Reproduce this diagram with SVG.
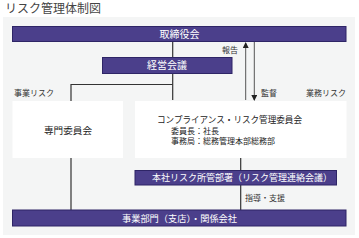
<svg xmlns="http://www.w3.org/2000/svg" width="359" height="238" viewBox="0 0 359 238">
<defs>
<style>
text{font-family:"Noto Sans CJK JP","Noto Sans CJK SC",sans-serif;}
.bar{fill:#4b3f8b;stroke:#2e2566;stroke-width:1;}
.box{fill:#ffffff;}
.bt{fill:#ffffff;font-size:10px;text-anchor:middle;}
.lbl{fill:#333333;font-size:8px;}
.ln{stroke:#333333;stroke-width:1.2;fill:none;}
.ar{stroke:#555555;stroke-width:1;fill:none;}
</style>
<marker id="ah" markerWidth="6" markerHeight="6" refX="5" refY="3" orient="auto" markerUnits="userSpaceOnUse">
<path d="M0,0 L6,3 L0,6 Z" fill="#222222"/>
</marker>
</defs>
<text x="5" y="13" style="font-size:12px;fill:#444444;">リスク管理体制図</text>
<rect x="3" y="17" width="352" height="218" fill="#f4f5f5"/>
<g id="connectors">
<path class="ln" d="M172.7,41 V100"/>
<path class="ln" d="M172.7,84.5 H71 V210"/>
<path class="ln" d="M240.7,158 V210"/>
<path class="ar" d="M245.7,100 V43" marker-end="url(#ah)"/>
<path class="ar" d="M254.3,41 V100" marker-end="url(#ah)"/>
</g>
<g id="board"><rect class="bar" x="12.5" y="26.5" width="333.5" height="15"/><text class="bt" x="179.5" y="37.8">取締役会</text></g>
<g id="mgmt"><rect class="bar" x="102.5" y="57.5" width="129.5" height="16"/><text class="bt" x="167" y="69.3">経営会議</text></g>
<g id="lbl-report"><text class="lbl" x="222" y="53">報告</text></g>
<g id="lbl-supervise"><text class="lbl" x="261" y="96">監督</text></g>
<g id="lbl-bizrisk"><text class="lbl" x="14" y="96">事業リスク</text></g>
<g id="lbl-oprisk"><text class="lbl" x="306" y="96">業務リスク</text></g>
<g id="expert"><rect class="box" x="12.5" y="101" width="110.5" height="57"/><text x="68" y="133.5" style="font-size:9.6px;fill:#222222;text-anchor:middle;">専門委員会</text></g>
<g id="compliance"><rect class="box" x="135" y="101" width="211.5" height="57"/>
<text x="157" y="123" textLength="145" lengthAdjust="spacingAndGlyphs" style="font-size:9px;fill:#222222;">コンプライアンス・リスク管理委員会</text>
<text x="171" y="134" style="font-size:8px;fill:#222222;">委員長：社長</text>
<text x="171" y="144" style="font-size:8px;fill:#222222;">事務局：総務管理本部総務部</text>
</g>
<g id="hq"><rect class="bar" x="135" y="170.5" width="201.5" height="14.5"/><text class="bt" x="152" y="181.3" textLength="180" lengthAdjust="spacingAndGlyphs" style="text-anchor:start;font-size:9.2px;">本社リスク所管部署（リスク管理連絡会議）</text></g>
<g id="lbl-guide"><text class="lbl" x="245" y="201">指導・支援</text></g>
<g id="business"><rect class="bar" x="12.5" y="210" width="333.5" height="16"/><text class="bt" x="122" y="221.5" textLength="115" lengthAdjust="spacingAndGlyphs" style="text-anchor:start;font-size:9px;">事業部門（支店）・関係会社</text></g>
</svg>
